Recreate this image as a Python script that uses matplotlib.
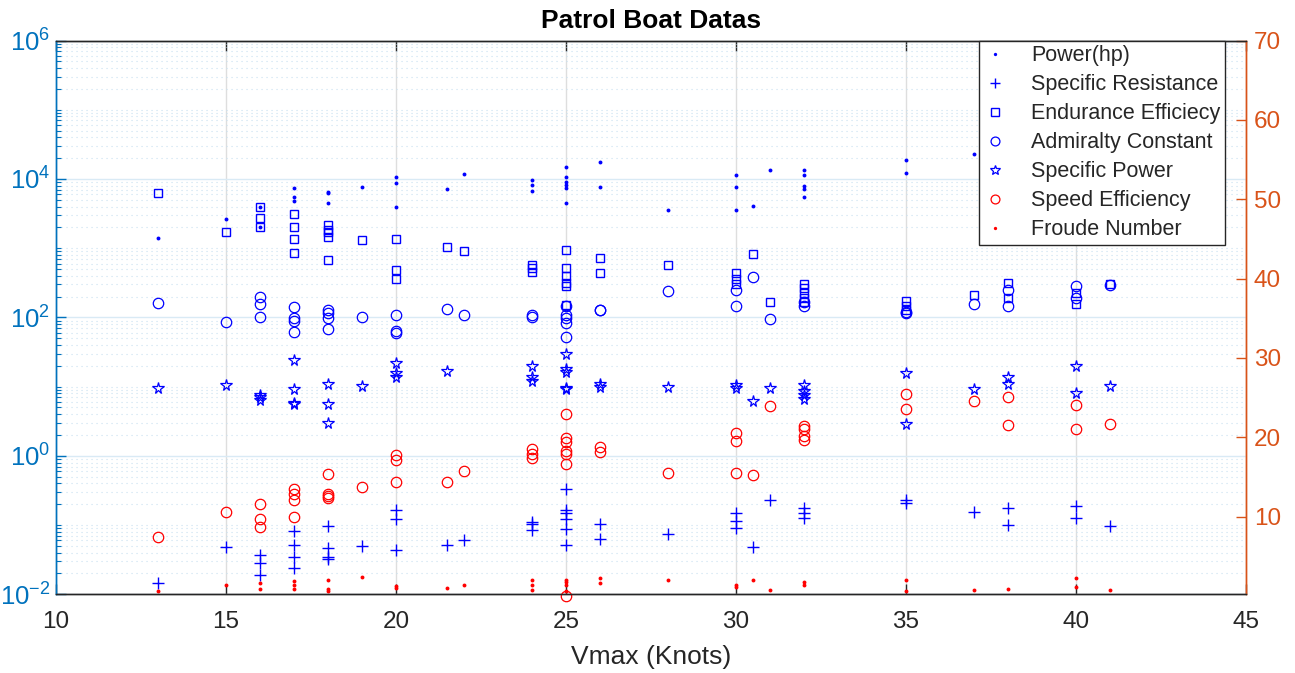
import matplotlib.pyplot as plt
from matplotlib.ticker import FixedLocator, FuncFormatter, LogLocator, NullFormatter
import numpy as np

plt.rcParams['font.family'] = ['Liberation Sans', 'DejaVu Sans']

# ---- left axis (log) series ----
power_x = [13, 15, 16, 16, 17, 17, 17, 18, 18, 18, 19, 20, 20, 20, 21.5, 22,
           24, 24, 24, 25, 25, 25, 25, 25, 25, 26, 26, 28, 30, 30, 30, 30.5, 31,
           32, 32, 32, 32, 32, 35, 35, 37]
power_hp = [1400, 2600, 3900, 2000, 7400, 5500, 4800, 6500, 6200, 4500, 7600,
            10700, 8700, 3900, 7200, 11700, 9800, 8200, 6700, 15100, 10700, 9000,
            8300, 7500, 4450, 17800, 7600, 3550, 11400, 7600, 3550, 4100, 13300,
            13300, 11400, 7900, 7100, 5500, 19000, 12200, 22600]

resist_x = [13, 15, 16, 16, 16, 17, 17, 17, 17, 18, 18, 18, 18, 19, 20, 20, 20,
            21.5, 22, 24, 24, 24, 25, 25, 25, 25, 25, 25, 26, 26, 28, 30, 30, 30,
            30.5, 31, 32, 32, 32, 35, 35, 37, 38, 38, 40, 40, 41]
resist_y = [0.0148, 0.048, 0.037, 0.028, 0.019, 0.083, 0.051, 0.035, 0.024,
            0.096, 0.046, 0.035, 0.032, 0.050, 0.164, 0.122, 0.044, 0.051, 0.060,
            0.110, 0.105, 0.085, 0.33, 0.168, 0.150, 0.122, 0.089, 0.051, 0.105,
            0.064, 0.074, 0.148, 0.115, 0.091, 0.048, 0.23, 0.176, 0.152, 0.128,
            0.23, 0.21, 0.155, 0.174, 0.101, 0.19, 0.125, 0.096]

endur_x = [13, 15, 16, 16, 16, 17, 17, 17, 17, 18, 18, 18, 18, 18, 19, 20, 20, 20,
           21.5, 22, 24, 24, 24, 25, 25, 25, 25, 25, 25, 26, 26, 28, 30, 30, 30,
           30.5, 31, 32, 32, 32, 32, 32, 35, 35, 35, 37, 38, 38, 40, 40, 41]
endur_y = [6200, 1730, 3900, 2700, 2000, 3150, 2000, 1380, 850, 2160, 1860, 1740,
           1460, 675, 1300, 1370, 480, 360, 1050, 910, 570, 510, 460, 940, 525, 400,
           310, 285, 150, 720, 435, 565, 440, 360, 300, 820, 168, 300, 262, 223,
           188, 165, 173, 145, 128, 210, 310, 190, 225, 155, 300]

admir_x = [13, 15, 16, 16, 16, 17, 17, 17, 17, 18, 18, 18, 18, 19, 20, 20, 20,
           21.5, 22, 24, 24, 25, 25, 25, 25, 25, 26, 26, 28, 30, 30, 30.5, 31,
           32, 32, 35, 35, 37, 38, 38, 40, 40, 41]
admir_y = [160, 85, 200, 155, 100, 140, 98, 89, 62, 126, 115, 98, 68, 100, 109,
           63, 59, 132, 107, 107, 100, 145, 107, 98, 84, 52, 130, 127, 240, 245,
           145, 380, 95, 165, 145, 120, 114, 155, 245, 145, 285, 188, 290]

spow_x = [13, 15, 16, 16, 16, 17, 17, 17, 17, 18, 18, 18, 19, 20, 20, 20, 21.5,
          24, 24, 24, 25, 25, 25, 25, 25, 26, 26, 28, 30, 30, 30.5, 31, 32, 32,
          32, 32, 35, 35, 37, 38, 38, 40, 40, 41]
spow_y = [9.6, 10.7, 7.5, 7.0, 6.4, 24, 9.1, 5.8, 5.6, 10.9, 5.7, 3.0, 10.2, 22,
          16, 13.6, 17, 19.6, 13.9, 12.2, 30, 17.8, 16.4, 9.7, 9.1, 11, 10, 10,
          10.5, 9.7, 6.2, 9.5, 10.5, 8.7, 7.5, 6.6, 16, 2.9, 9.4, 13.8, 10.9, 20,
          8, 10.2]

# ---- right axis (linear) series ----
speff_x = [13, 15, 16, 16, 16, 17, 17, 17, 17, 18, 18, 18, 18, 19, 20, 20, 20,
           21.5, 22, 24, 24, 24, 25, 25, 25, 25, 25, 25, 25, 26, 26, 28, 30, 30,
           30, 30.5, 31, 32, 32, 32, 32, 35, 35, 37, 38, 38, 40, 40, 41]
speff_y = [7.4, 10.6, 11.6, 9.7, 8.7, 13.5, 12.9, 12.05, 9.9, 15.4, 12.9, 12.6,
           12.3, 13.7, 17.7, 17.1, 14.3, 14.4, 15.8, 18.5, 17.9, 17.4, 22.9, 19.9,
           19.4, 18.3, 17.9, 16.6, 0.0, 18.8, 18.1, 15.5, 20.5, 19.5, 15.5, 15.2,
           23.9, 21.4, 21.1, 20.2, 19.7, 25.4, 23.6, 24.6, 25.1, 21.5, 24.0, 21.1,
           21.7]

froude_x = [13, 15, 16, 16, 17, 17, 17, 18, 18, 18, 19, 20, 20, 21.5, 22, 24, 24,
            24, 25, 25, 25, 25, 26, 26, 28, 30, 30, 30.5, 31, 32, 32, 35, 35, 37,
            38, 40, 40, 41]
froude_y = [0.66, 1.4, 1.6, 0.9, 1.84, 1.33, 0.9, 1.96, 0.91, 0.57, 2.4, 1.3, 1.0,
            1.0, 1.37, 2.05, 1.33, 0.73, 2.05, 1.75, 1.4, 0.66, 2.25, 1.6, 1.96,
            1.4, 1.1, 2.05, 0.73, 1.75, 1.33, 2.05, 0.66, 0.78, 0.91, 2.2, 1.1,
            0.73]

x_ticks = [10, 15, 20, 25, 30, 35, 40, 45]
left_ticks = [1e-2, 1e0, 1e2, 1e4, 1e6]
right_ticks = [10, 20, 30, 40, 50, 60, 70]

LEFT_C = '#0072BD'
RIGHT_C = '#D95319'
DARK = '#262626'

fig = plt.figure(figsize=(12.95, 6.73), dpi=100)
ax = fig.add_axes([0.0432, 0.1169, 0.9187, 0.8229])
ax2 = ax.twinx()

kw = dict(linestyle='none', clip_on=False)
h1, = ax.plot(power_x, power_hp, marker='o', ms=2.8, mec='b', mfc='b', mew=0, **kw)
h2, = ax.plot(resist_x, resist_y, marker='+', ms=9, mec='b', mew=1.0, **kw)
h3, = ax.plot(endur_x, endur_y, marker='s', ms=6, mec='b', mfc='none', mew=1.0, **kw)
h4, = ax.plot(admir_x, admir_y, marker='o', ms=7.5, mec='b', mfc='none', mew=0.9, **kw)
h5, = ax.plot(spow_x, spow_y, marker='*', ms=8.5, mec='b', mfc='none', mew=0.9, **kw)
h6, = ax2.plot(speff_x, speff_y, marker='o', ms=7.5, mec='r', mfc='none', mew=0.9, **kw)
h7, = ax2.plot(froude_x, froude_y, marker='o', ms=2.8, mec='r', mfc='r', mew=0, **kw)

# left log axis
ax.set_yscale('log')
ax.set_ylim(1e-2, 1e6)
ax.yaxis.set_major_locator(FixedLocator(left_ticks))
ax.yaxis.set_major_formatter(FuncFormatter(lambda v, p: r'$\mathdefault{10^{%d}}$' % round(np.log10(v))))
ax.yaxis.set_minor_locator(LogLocator(base=10, subs=np.arange(1, 10), numticks=100))
ax.yaxis.set_minor_formatter(NullFormatter())
ax.tick_params(axis='y', which='major', direction='in', length=7, width=1,
               color=LEFT_C, labelcolor=LEFT_C, labelsize=18.5, pad=4)
ax.tick_params(axis='y', which='minor', direction='in', length=3.5, width=0.8, color=LEFT_C)

ax.set_xlim(10, 45)
ax.set_xticks(x_ticks)
ax.tick_params(axis='x', which='both', direction='in', length=7, width=1, top=True,
               color=DARK, labelcolor=DARK, labelsize=17.5, pad=12)

# right linear axis
ax2.set_ylim(0.2, 70)
ax2.set_yticks(right_ticks)
ax2.tick_params(axis='y', direction='in', length=7, width=1, color=RIGHT_C,
                labelcolor=RIGHT_C, labelsize=17.5, pad=6)

for a in (ax, ax2):
    a.spines['left'].set_color(LEFT_C)
    a.spines['right'].set_color(RIGHT_C)
    a.spines['top'].set_color(DARK)
    a.spines['bottom'].set_color(DARK)
    for s in a.spines.values():
        s.set_linewidth(1.0)

# grid
ax.set_axisbelow(True)
ax.grid(which='major', axis='y', color=(0.85, 0.917, 0.961), lw=1.0)
ax.grid(which='minor', axis='y', color=(0.79, 0.88, 0.945), lw=0.8, ls=(0, (1, 3.5)))
ax.grid(which='major', axis='x', color='#dedede', lw=1.0)

ax.set_title('Patrol Boat Datas', fontsize=19, fontweight='bold', pad=9)
ax.set_xlabel('Vmax (Knots)', fontsize=19, color=DARK, labelpad=9)

handles = [h1, h2, h3, h4, h5, h6, h7]
labels = ['Power(hp)', 'Specific Resistance', 'Endurance Efficiecy',
          'Admiralty Constant', 'Specific Power', 'Speed Efficiency', 'Froude Number']
leg = ax2.legend(handles, labels, loc='upper right', bbox_to_anchor=(0.983, 1.0),
                 borderaxespad=0, fontsize=15.5, fancybox=False, framealpha=1,
                 edgecolor=DARK, handlelength=1.0, handletextpad=1.2,
                 labelspacing=0.37, borderpad=0.22, markerscale=0.85)
leg.get_frame().set_linewidth(1.0)
for t in leg.get_texts():
    t.set_color(DARK)

fig.savefig('out.png', dpi=100)
